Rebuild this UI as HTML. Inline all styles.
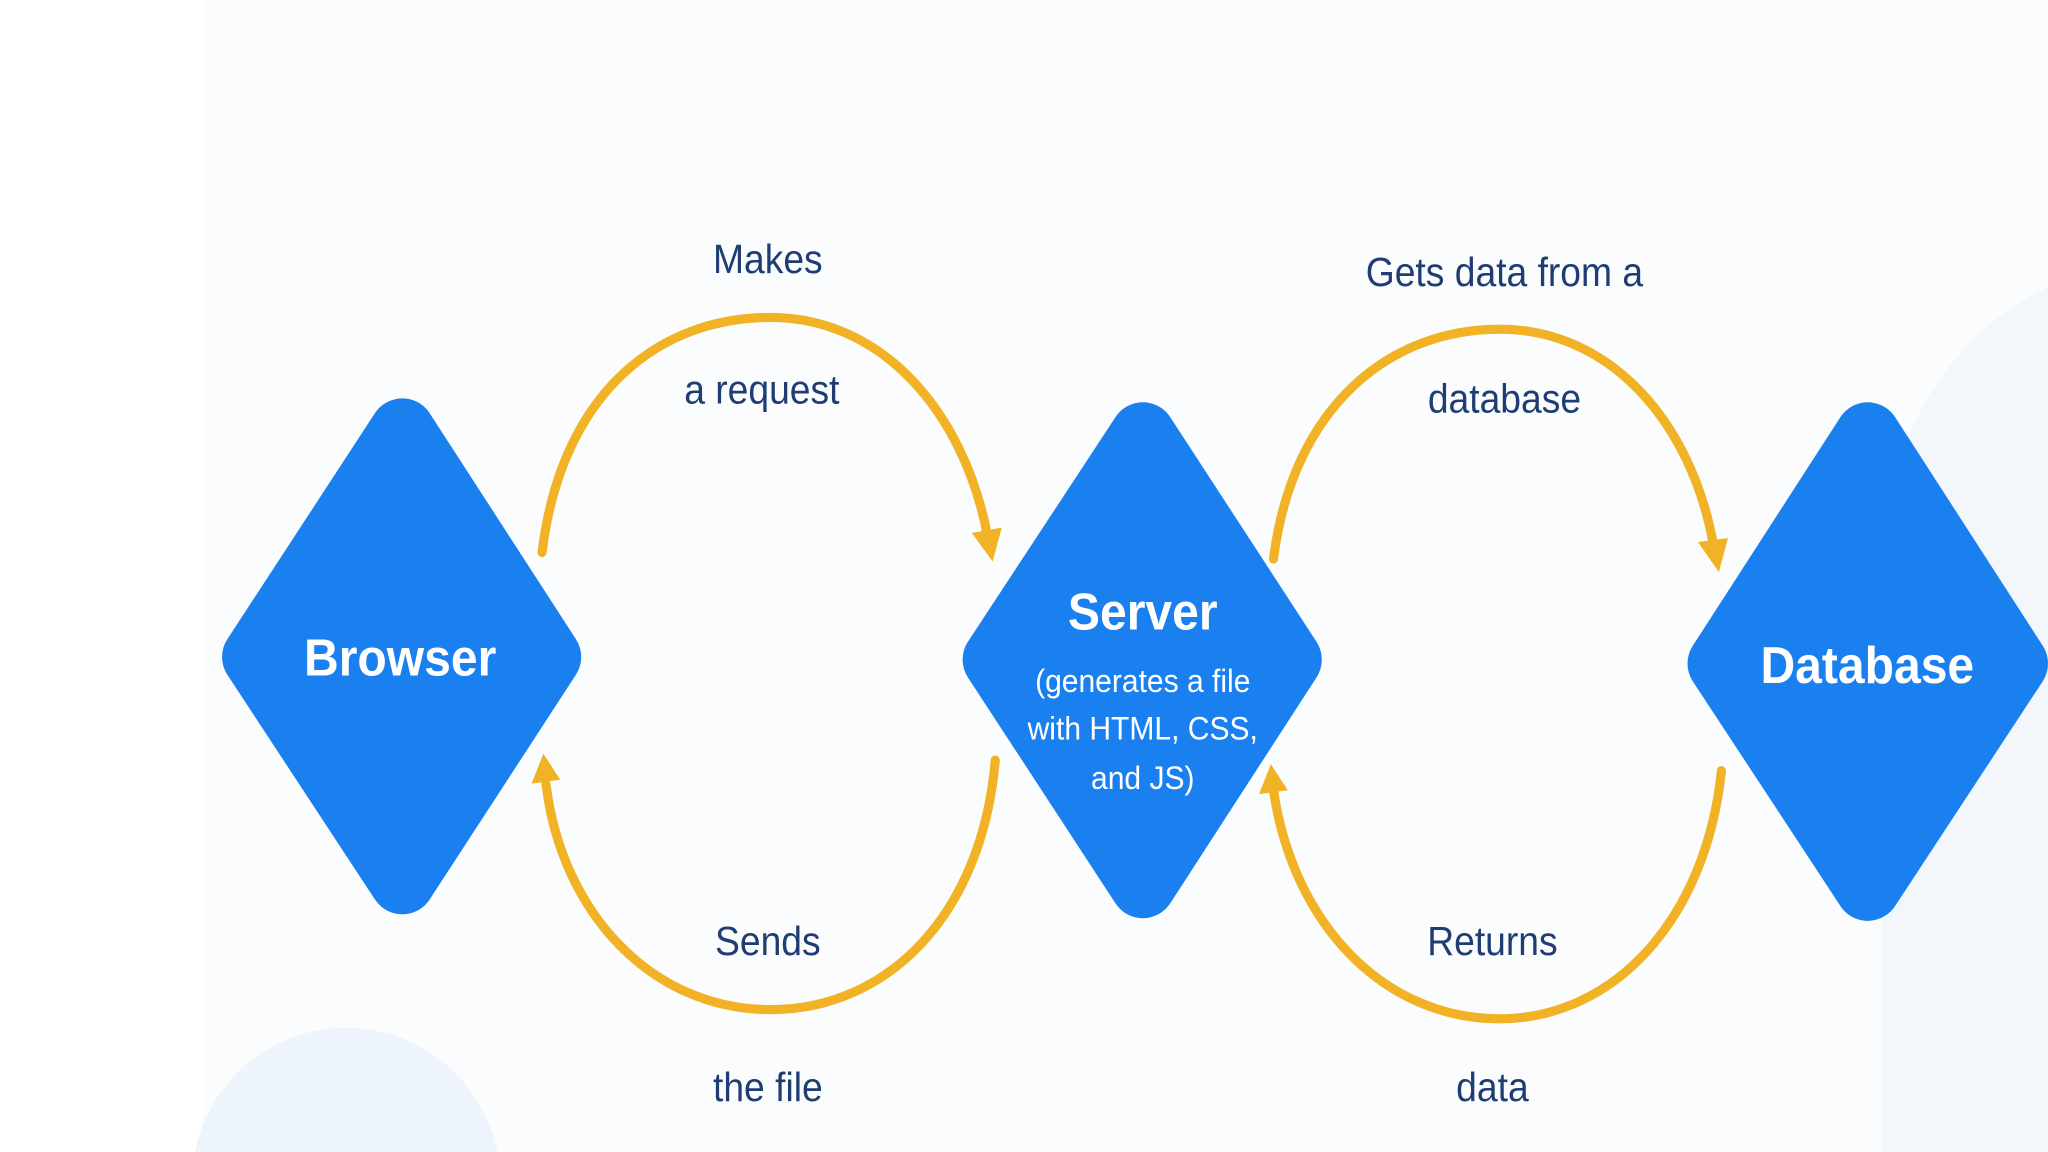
<!DOCTYPE html>
<html><head><meta charset="utf-8"><style>
html,body{margin:0;padding:0;background:#fff;overflow:hidden;width:2048px;height:1152px;}
svg{display:block}
text{font-family:"Liberation Sans",Arial,sans-serif;}
</style></head><body>
<svg width="2048" height="1152" viewBox="0 0 1568 882" xmlns="http://www.w3.org/2000/svg">
<rect x="0" y="0" width="1568" height="882" fill="#ffffff"/>
<rect x="155" y="0" width="1413" height="882" fill="#fbfcfe"/>
<circle cx="265" cy="905" r="118" fill="#eef4fb"/>
<path d="M1568,220 C1500,250 1445,330 1440,420 L1440,882 L1568,882 Z" fill="#f3f6fb"/>
<g fill="#1a80f0" stroke="#1a80f0" stroke-width="50" stroke-linejoin="round">
<polygon points="308,330 420,503 308,675 195,503"/>
<polygon points="875,333 987,505 875,678 762,505"/>
<polygon points="1430,333 1543,508 1430,680 1317,508"/>
</g>
<g fill="none" stroke="#f2b225" stroke-width="7" stroke-linecap="round">
<path d="M415,423 C430,300 505,243 590,243 C675,243 738,315 756,410"/>
<path d="M762,582 C752,700 680,773 590,773 C500,773 430,700 418,600"/>
<path d="M975,428 C990,310 1065,252 1148,252 C1232,252 1295,322 1312,418"/>
<path d="M1318,590 C1306,705 1235,780 1148,780 C1060,780 990,708 975,605"/>
</g>
<g fill="#f2b225">
<polygon points="760,430 744,408 767,404"/>
<polygon points="416,577 407,600 429,597"/>
<polygon points="1316,438 1300,415 1323,412"/>
<polygon points="973,585 964,608 986,605"/>
</g>
<g fill="#1f3d72" font-size="31" text-anchor="middle" transform="scale(0.92,1)">
<text x="639" y="209">Makes</text>
<text x="634" y="309">a request</text>
<text x="1252" y="219">Gets data from a</text>
<text x="1252" y="316">database</text>
<text x="639" y="731">Sends</text>
<text x="639" y="843">the file</text>
<text x="1242" y="731">Returns</text>
<text x="1242" y="843">data</text>
</g>
<g fill="#ffffff" text-anchor="middle" transform="scale(0.92,1)">
<text x="333" y="517" font-size="40" font-weight="bold">Browser</text>
<text x="951" y="482" font-size="40" font-weight="bold">Server</text>
<text x="951" y="530" font-size="25">(generates a file</text>
<text x="951" y="566" font-size="25">with HTML, CSS,</text>
<text x="951" y="604" font-size="25">and JS)</text>
<text x="1554" y="523" font-size="40" font-weight="bold">Database</text>
</g>
</svg>
</body></html>
